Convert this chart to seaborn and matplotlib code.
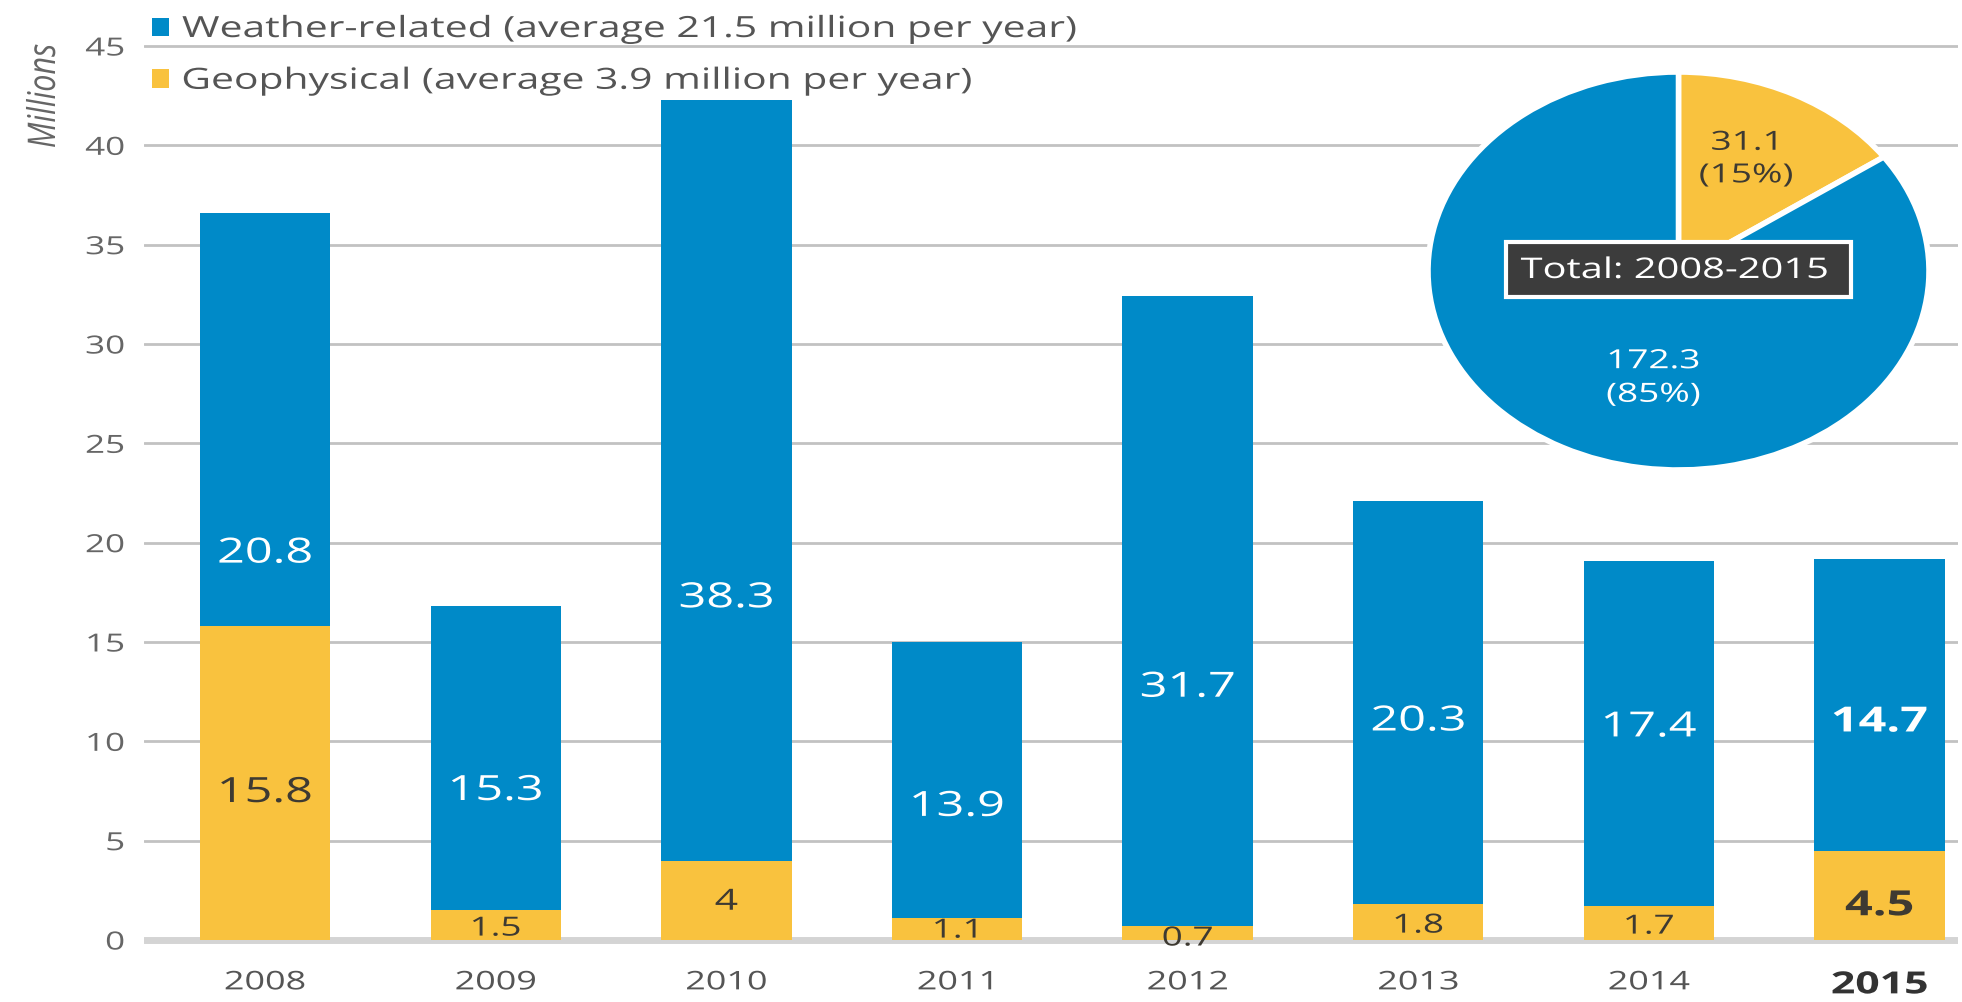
import matplotlib
matplotlib.use("Agg")
import matplotlib.pyplot as plt
from matplotlib.patches import Patch, Rectangle
from matplotlib.patheffects import AbstractPathEffect
from matplotlib.transforms import Affine2D
import seaborn as sns
import pandas as pd

# ---------------- data ----------------
years = ["2008", "2009", "2010", "2011", "2012", "2013", "2014", "2015"]
weather = [20.8, 15.3, 38.3, 13.9, 31.7, 20.3, 17.4, 14.7]
geophysical = [15.8, 1.5, 4, 1.1, 0.7, 1.8, 1.7, 4.5]
pie_values = [31.1, 172.3]
pie_texts = ["31.1\n(15%)", "172.3\n(85%)"]
pie_title = "Total: 2008-2015"
legend_labels = ["Weather-related (average 21.5 million per year)",
                 "Geophysical (average 3.9 million per year)"]
y_ticks = [0, 5, 10, 15, 20, 25, 30, 35, 40, 45]
y_label = "Millions"

# label anchor heights (data units) as placed in the reference
weather_label_y = [19.45, 7.5, 17.2, 6.7, 12.7, 11.0, 10.7, 10.95]
geo_label_y = [7.4, 0.55, 1.9, 0.45, 0.05, 0.7, 0.65, 1.7]

# ---------------- style ----------------
BLUE = "#008AC8"
YELLOW = "#F9C23E"
DARK = "#3E3A32"
GRID = "#C2C2C2"
TICK = "#555555"
SX = 1.4


class Stretch(AbstractPathEffect):
    """Widen text glyphs horizontally (the reference is a stretched image)."""

    def __init__(self, sx=SX, sy=1.0, anchor="center"):
        super().__init__()
        self.sx, self.sy, self.anchor = sx, sy, anchor

    def draw_path(self, renderer, gc, tpath, affine, rgbFace=None):
        ext = tpath.get_extents()
        if self.anchor == "left":
            cx = ext.x0
        elif self.anchor == "right":
            cx = ext.x1
        else:
            cx = 0.5 * (ext.x0 + ext.x1)
        t = Affine2D().translate(-cx, 0).scale(self.sx, self.sy).translate(cx, 0) + affine
        renderer.draw_path(gc, tpath, t, rgbFace)


ST_C = [Stretch(anchor="center")]
ST_L = [Stretch(anchor="left")]
ST_R = [Stretch(anchor="right")]

sns.set_theme(style="white")
plt.rcParams["font.family"] = ["Open Sans", "DejaVu Sans"]

W, H = 1962, 1003
fig = plt.figure(figsize=(W / 100, H / 100), dpi=100)

# main axes: y=0 at 941px, y=45 at 47px
ppu = (941 - 47) / 45.0
y_lo, y_hi = -0.2, 45.2
bot_px = 941 + (0 - y_lo) * ppu
top_px = 47 - (y_hi - 45) * ppu
ax = fig.add_axes([144 / W, 1 - bot_px / H, (1958 - 144) / W, (bot_px - top_px) / H])

df = pd.DataFrame({"year": years, "weather": weather, "geo": geophysical})
df["total"] = df["weather"] + df["geo"]

sns.barplot(data=df, x="year", y="total", color=BLUE, saturation=1,
            width=0.565, linewidth=0, ax=ax)
sns.barplot(data=df, x="year", y="geo", color=YELLOW, saturation=1,
            width=0.565, linewidth=0, ax=ax)

ax.set_xlim(-0.525, 7.34)
ax.set_ylim(y_lo, y_hi)
ax.set_yticks(y_ticks)
ax.set_xlabel("")
ax.set_ylabel("")
for s in ax.spines.values():
    s.set_visible(False)
ax.set_axisbelow(True)
ax.yaxis.grid(True, color=GRID, linewidth=2)
ax.xaxis.grid(False)
ax.axhline(0, color="#D4D4D4", linewidth=5, zorder=0.6)

ax.tick_params(axis="y", length=0, pad=14, labelsize=18, labelcolor="#666666")
ax.tick_params(axis="x", length=0, pad=19, labelsize=18.5, labelcolor=TICK)
for lab in ax.get_yticklabels():
    lab.set_path_effects(ST_R)
xlabels = ax.get_xticklabels()
for lab in xlabels:
    lab.set_path_effects(ST_C)
xlabels[-1].set_fontweight("bold")
xlabels[-1].set_fontsize(22)
xlabels[-1].set_color("#333333")

# bar value labels
last = len(years) - 1
for i, (w, g) in enumerate(zip(weather, geophysical)):
    bold = "bold" if i == last else "normal"
    ax.text(i, weather_label_y[i], f"{w:g}", ha="center", va="center",
            color="white", fontsize=25, fontweight=bold, path_effects=ST_C)
    if i == last or g >= 10:
        gfs = 25
    elif g >= 3:
        gfs = 21
    else:
        gfs = 19
    ax.text(i, geo_label_y[i], f"{g:g}", ha="center", va="center",
            color=DARK, fontsize=gfs, fontweight=bold, path_effects=ST_C)

# y-axis title
fig.text(47 / W, 1 - 97 / H, y_label, rotation=90, style="italic",
         color="#666666", fontsize=22, ha="center", va="center",
         path_effects=[Stretch(sx=1.0, sy=1.25, anchor="center")])

# legend
handles = [Patch(facecolor=BLUE, edgecolor="none"),
           Patch(facecolor=YELLOW, edgecolor="none")]
leg = fig.legend(handles, legend_labels, loc="upper left",
                 bbox_to_anchor=(152 / W, 1 - 16 / H), frameon=False,
                 fontsize=21, handlelength=0.58, handleheight=0.58,
                 handletextpad=0.45, labelspacing=0.78, borderpad=0,
                 borderaxespad=0)
for t in leg.get_texts():
    t.set_color("#555555")
    t.set_path_effects(ST_L)

# pie (elliptical, as in the reference)
pax = fig.add_axes([1428 / W, 1 - 471 / H, 501 / W, 398 / H])
wedges, _ = pax.pie(pie_values, colors=[YELLOW, BLUE], startangle=90,
                    counterclock=False,
                    wedgeprops=dict(edgecolor="white", linewidth=4, clip_on=False))
pax.set_aspect("auto")
pax.set_xlim(-1, 1)
pax.set_ylim(-1, 1)
pax.axis("off")

pax.text(0.27, 0.56, pie_texts[0], ha="center", va="center", color=DARK,
         fontsize=19, linespacing=1.4, path_effects=ST_C)
pax.text(-0.1, -0.54, pie_texts[1], ha="center", va="center", color="white",
         fontsize=19, linespacing=1.45, path_effects=ST_C)
pax.add_patch(Rectangle((-0.69, -0.131), 1.38, 0.277, facecolor="#3C3C3C",
                        edgecolor="white", linewidth=3, zorder=3, clip_on=False))
pax.text(-0.016, 0.0, pie_title, ha="center", va="center", color="white",
         fontsize=20.5, zorder=4, path_effects=ST_C)

fig.savefig("out.png", dpi=100)
